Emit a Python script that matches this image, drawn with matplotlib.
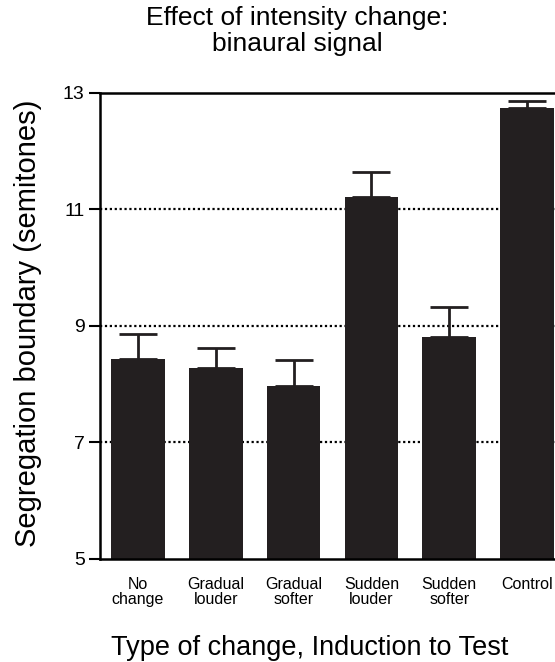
"""
Segregation boundary for each type of intensity change (binaural signal).
Bar heights and upper error bars read off the published figure.
"""

import matplotlib
matplotlib.use("Agg")
import matplotlib.pyplot as plt

plt.rcParams["font.family"] = ["Liberation Sans", "DejaVu Sans"]

# ---------------------------------------------------------------------
# data
# ---------------------------------------------------------------------
categories = ["No\nchange", "Gradual\nlouder", "Gradual\nsofter",
              "Sudden\nlouder", "Sudden\nsofter", "Control"]
boundary = [8.43, 8.28, 7.97, 11.22, 8.81, 12.75]
upper_err = [0.44, 0.35, 0.45, 0.42, 0.52, 0.11]
y_ticks = [5, 7, 9, 11, 13]

BAR_COLOR = "#231f20"

# ---------------------------------------------------------------------
# plot
# ---------------------------------------------------------------------
fig = plt.figure(figsize=(5.55, 6.62), dpi=100)
ax = fig.add_axes([0.180, 0.1556, 0.820, 0.704])

x = list(range(len(categories)))

# dotted reference lines behind the bars
for yv in [7, 9, 11]:
    ax.axhline(yv, color="black", linestyle=(0, (1, 1.2)), linewidth=1.6, zorder=1)

ax.bar(x, boundary, width=0.69, bottom=0, color=BAR_COLOR, zorder=2)
ax.errorbar(x, boundary, yerr=[[0] * len(x), upper_err], fmt="none",
            ecolor=BAR_COLOR, elinewidth=2, capsize=14, capthick=2, zorder=3)

ax.set_xlim(-0.49, 5.36)
ax.set_ylim(5, 13)
ax.set_yticks(y_ticks)
ax.set_yticklabels([str(v) for v in y_ticks], fontsize=14)
ax.set_xticks(x)
ax.set_xticklabels(categories, fontsize=11.5, linespacing=1.0)
ax.tick_params(axis="x", length=0, pad=13)
ax.tick_params(axis="y", direction="out", length=8, width=1.5, pad=3)

for side in ["left", "bottom", "top"]:
    ax.spines[side].set_linewidth(1.8)
ax.spines["right"].set_visible(False)

ax.set_ylabel("Segregation boundary (semitones)", fontsize=21)
ax.yaxis.set_label_coords(-0.128, 0.506)
ax.set_xlabel("Type of change, Induction to Test", fontsize=19.5)
ax.xaxis.set_label_coords(0.462, -0.164)

fig.text(0.535, 0.953, "Effect of intensity change:\nbinaural signal",
         ha="center", va="center", fontsize=19, linespacing=1.1)

fig.savefig("out.png", dpi=100)
